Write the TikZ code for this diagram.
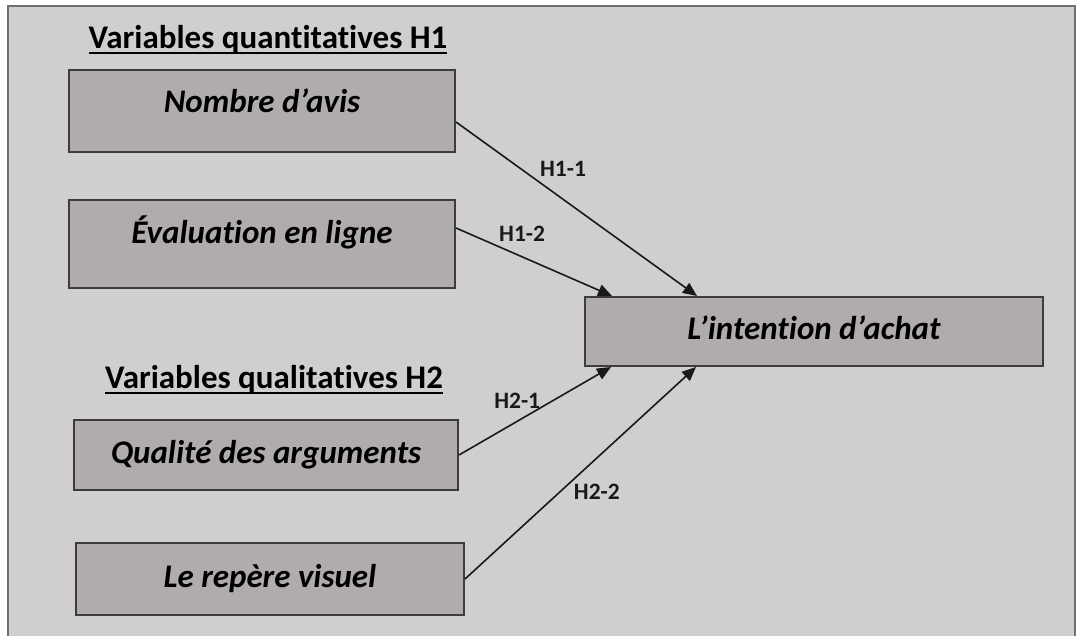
\documentclass[tikz,border=0pt]{standalone}
\usepackage{fontspec}
\setmainfont[Ligatures=NoCommon]{Carlito}
\usetikzlibrary{arrows.meta,calc}
\definecolor{bgc}{HTML}{D0CECF}
\definecolor{boxc}{HTML}{B0ACAB}
\definecolor{framec}{HTML}{707070}
\definecolor{edgec}{HTML}{3C3C3C}
\tikzset{
  varbox/.style={draw=edgec, line width=2pt, fill=boxc, rectangle, inner sep=0pt,
    font=\fontsize{33}{36}\selectfont\bfseries\itshape, text height=23pt, text depth=7pt},
  titletext/.style={inner sep=0pt, font=\fontsize{33}{36}\selectfont\bfseries},
  hyp/.style={-{Triangle[length=14pt,width=12pt]}, line width=1.6pt, draw=black!90},
  hlabel/.style={font=\fontsize{23.5}{26}\selectfont\bfseries, inner sep=0pt, text=black!90}
}
\begin{document}
\begin{tikzpicture}[x=1pt,y=-1pt]
\useasboundingbox (0,0) rectangle (1076,636);
\fill[bgc] (8,6) rectangle (1075,636);
\draw[framec, line width=2pt] (8,636) -- (8,6) -- (1075,6) -- (1075,636);

\node[titletext] (t1) at (268,40) {Variables quantitatives H1};
\draw[line width=2pt] ([yshift=-4pt]t1.base west) -- ([yshift=-4pt]t1.base east);
\node[titletext] (t2) at (274,380) {Variables qualitatives H2};
\draw[line width=2pt] ([yshift=-4pt]t2.base west) -- ([yshift=-4pt]t2.base east);

\node[varbox, minimum width=386pt, minimum height=82pt, text depth=19pt] (b1) at (262,111) {Nombre d’avis};
\node[varbox, minimum width=386pt, minimum height=88pt, text depth=23pt] (b2) at (262,244) {Évaluation en ligne};
\node[varbox, minimum width=458pt, minimum height=69pt] (tg) at (814,331.5) {L’intention d’achat};
\node[varbox, minimum width=384pt, minimum height=70pt] (b3) at (266,455) {Qualité des arguments};
\node[varbox, minimum width=388pt, minimum height=72pt] (b4) at (270,579) {Le repère visuel};

\draw[hyp] ([yshift=-11pt]b1.east) -- ([xshift=113pt]tg.north west)
  node[hlabel, pos=0.444, yshift=30pt] {H1-1};
\draw[hyp] ([yshift=16pt]b2.east) -- ([xshift=28pt]tg.north west)
  node[hlabel, pos=0.424, yshift=23pt] {H1-2};
\draw[hyp] (b3.east) -- ([xshift=27pt]tg.south west)
  node[hlabel, pos=0.383, yshift=21pt] {H2-1};
\draw[hyp] (b4.east) -- ([xshift=112pt]tg.south west)
  node[hlabel, pos=0.571, yshift=-34pt] {H2-2};
\end{tikzpicture}
\end{document}
